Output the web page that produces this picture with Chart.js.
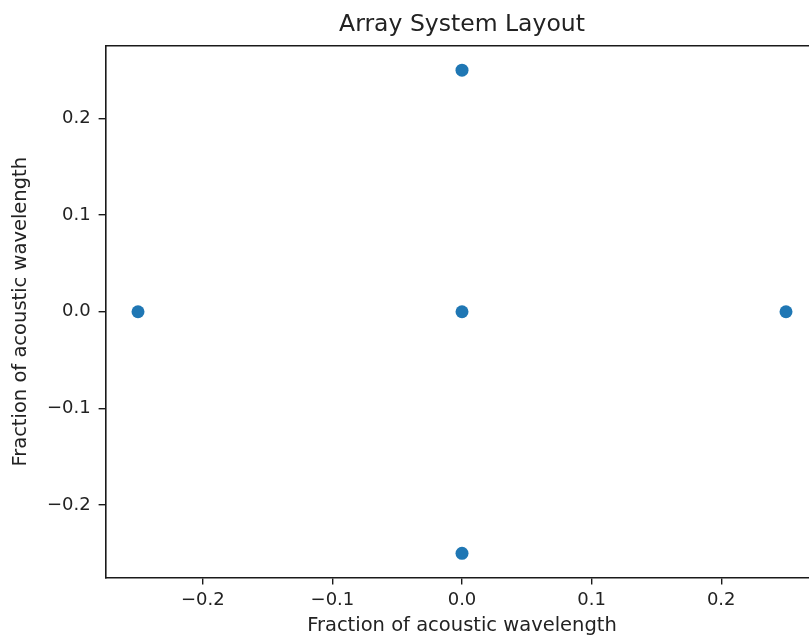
<!DOCTYPE html>
<html>
<head>
<meta charset="utf-8">
<script src="https://cdn.jsdelivr.net/npm/chart.js@4/dist/chart.umd.min.js"></script>
<style>
  html, body { margin: 0; padding: 0; background: #ffffff; overflow: hidden; }
  #wrap { width: 830px; height: 639px; }
</style>
</head>
<body>
<div id="wrap"><canvas id="c" width="830" height="639"></canvas></div>
<script>
// Element positions of the array, in fractions of the acoustic wavelength
const elementX = [0, -0.25, 0, 0.25, 0];
const elementY = [0.25, 0, 0, 0, -0.25];

// Axis ticks and limits
const xTicks = [-0.2, -0.1, 0.0, 0.1, 0.2];
const yTicks = [-0.2, -0.1, 0.0, 0.1, 0.2];
const xLimits = [-0.275, 0.275];
const yLimits = [-0.275, 0.275];

const chartTitle = 'Array System Layout';
const xLabel = 'Fraction of acoustic wavelength';
const yLabel = 'Fraction of acoustic wavelength';

const FONT = 'DejaVu Sans';
const INK = '#222222';
const SPINE = '#1a1a1a';

const fmt = v => (v < 0 ? '\u2212' : '') + Math.abs(v).toFixed(1);

const points = elementX.map((x, i) => ({ x: x, y: elementY[i] }));

new Chart(document.getElementById('c'), {
  type: 'scatter',
  data: {
    datasets: [{
      data: points,
      backgroundColor: '#1f77b4',
      borderWidth: 0,
      pointRadius: 6.5,
      pointHoverRadius: 6.5
    }]
  },
  options: {
    responsive: false,
    animation: false,
    events: [],
    layout: { padding: { top: 0, right: 11.6, bottom: 0, left: 0 } },
    plugins: {
      legend: { display: false },
      tooltip: { enabled: false },
      title: { display: false }
    },
    scales: {
      x: {
        type: 'linear',
        position: 'bottom',
        min: xLimits[0],
        max: xLimits[1],
        afterBuildTicks: s => { s.ticks = xTicks.map(v => ({ value: v })); },
        afterFit: s => { s.height = 61.5; },
        grid: {
          display: true,
          drawOnChartArea: false,
          drawTicks: true,
          tickLength: 7,
          color: SPINE,
          lineWidth: 1.4
        },
        border: { display: true, color: SPINE, width: 1.6 },
        ticks: {
          color: INK,
          padding: 5,
          maxRotation: 0,
          autoSkip: false,
          font: { family: FONT, size: 18 },
          callback: v => fmt(v)
        },
        title: {
          display: true,
          text: xLabel,
          color: INK,
          font: { family: FONT, size: 19.5 },
          padding: { top: 0, bottom: 1 }
        }
      },
      y: {
        type: 'linear',
        position: 'left',
        min: yLimits[0],
        max: yLimits[1],
        afterBuildTicks: s => { s.ticks = yTicks.map(v => ({ value: v })); },
        afterFit: s => { s.width = 105.6; },
        grid: {
          display: true,
          drawOnChartArea: false,
          drawTicks: true,
          tickLength: 7,
          color: SPINE,
          lineWidth: 1.4
        },
        border: { display: true, color: SPINE, width: 1.6 },
        ticks: {
          color: INK,
          padding: 8,
          autoSkip: false,
          font: { family: FONT, size: 18 },
          callback: v => fmt(v)
        },
        title: {
          display: true,
          text: yLabel,
          color: INK,
          font: { family: FONT, size: 19.5 },
          padding: { top: 9, bottom: 0 }
        }
      },
      top: {
        type: 'linear',
        position: 'top',
        min: xLimits[0],
        max: xLimits[1],
        afterFit: s => { s.height = 46; },
        grid: { display: false },
        border: { display: true, color: SPINE, width: 1.6 },
        ticks: { display: false },
        title: {
          display: true,
          text: chartTitle,
          color: INK,
          font: { family: FONT, size: 23.5 },
          padding: { top: 11, bottom: 0 }
        }
      }
    }
  }
});
</script>
</body>
</html>
